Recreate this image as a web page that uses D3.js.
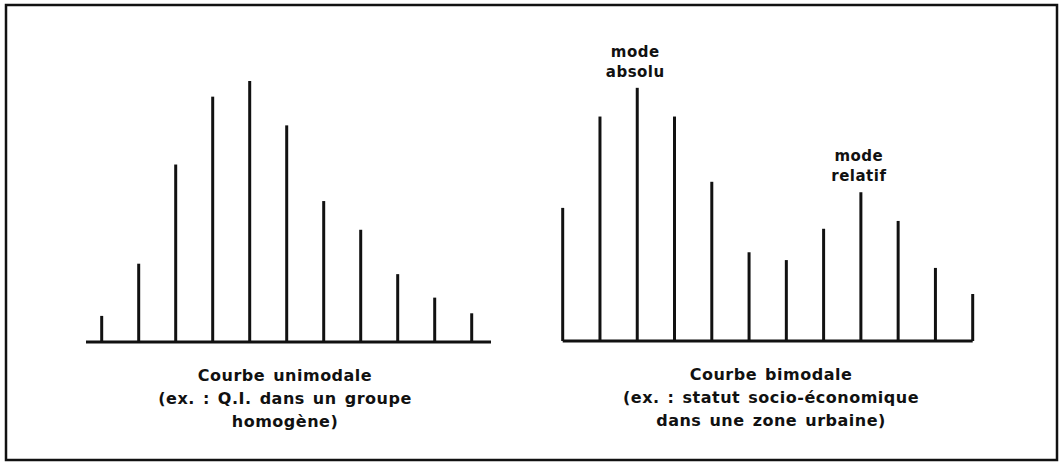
<!DOCTYPE html>
<html lang="fr">
<head>
    <meta charset="UTF-8">
    <title>Courbe unimodale / bimodale</title>
    <script src="https://cdn.jsdelivr.net/npm/d3@7"></script>
    <style>
        body {
            margin: 0;
            background: #fff;
        }

        svg text {
            font-family: "DejaVu Sans", sans-serif;
            font-weight: bold;
            fill: #111;
            letter-spacing: 0.5px;
        }

        .caption {
            word-spacing: 2px;
        }

        .stem, .base {
            stroke: #111;
            stroke-width: 3px;
        }
    </style>
</head>
<body>
<svg id="chart" width="1064" height="465"></svg>

<script>
    // frequencies (relative units, max = 100)
    var unimodalValues = [10, 30, 68, 94, 100, 83, 54, 43, 26, 17, 11];
    var bimodalValues = [51, 86, 97, 86, 61, 34, 31, 43, 57, 46, 28, 18];

    var unimodalCaption = ['Courbe unimodale', '(ex. : Q.I. dans un groupe', 'homogène)'];
    var bimodalCaption = ['Courbe bimodale', '(ex. : statut socio-économique', 'dans une zone urbaine)'];

    // annotated peaks: index into bimodalValues + label lines
    var modeLabels = [
        {i: 2, lines: ['mode', 'absolu']},
        {i: 8, lines: ['mode', 'relatif']}
    ];

    var svg = d3.select('#chart');

    // outer frame
    svg.append('rect')
        .attr('x', 6).attr('y', 5)
        .attr('width', 1051).attr('height', 455)
        .attr('fill', 'none')
        .attr('stroke', '#111')
        .attr('stroke-width', 2.5);

    var y = d3.scaleLinear().domain([0, 100]).range([0, 261]);

    function drawPanel(values, x, baseY, axisExtent, caption, captionX) {
        var g = svg.append('g');

        g.append('line')
            .attr('class', 'base')
            .attr('x1', axisExtent[0]).attr('x2', axisExtent[1])
            .attr('y1', baseY).attr('y2', baseY);

        g.selectAll('line.stem')
            .data(values)
            .enter()
            .append('line')
            .attr('class', 'stem')
            .attr('x1', (d, i) => x(i))
            .attr('x2', (d, i) => x(i))
            .attr('y1', baseY)
            .attr('y2', d => baseY - y(d));

        g.selectAll('text.caption')
            .data(caption)
            .enter()
            .append('text')
            .attr('class', 'caption')
            .attr('x', captionX)
            .attr('y', (d, i) => baseY + 39 + i * 23)
            .attr('text-anchor', 'middle')
            .attr('font-size', 16)
            .text(d => d);
        return g;
    }

    var xLeft = d3.scaleLinear().domain([0, unimodalValues.length - 1]).range([101.7, 471.7]);
    var xRight = d3.scaleLinear().domain([0, bimodalValues.length - 1]).range([562.7, 972.7]);

    drawPanel(unimodalValues, xLeft, 342, [86, 491], unimodalCaption, 285);
    var right = drawPanel(bimodalValues, xRight, 341, [562.7, 972.7], bimodalCaption, 771);

    modeLabels.forEach(function (m) {
        var top = 341 - y(bimodalValues[m.i]);
        right.selectAll(null)
            .data(m.lines)
            .enter()
            .append('text')
            .attr('x', xRight(m.i) - 2)
            .attr('y', (d, k) => top - 31 + k * 20)
            .attr('text-anchor', 'middle')
            .attr('font-size', 15)
            .text(d => d);
    });
</script>
</body>
</html>
